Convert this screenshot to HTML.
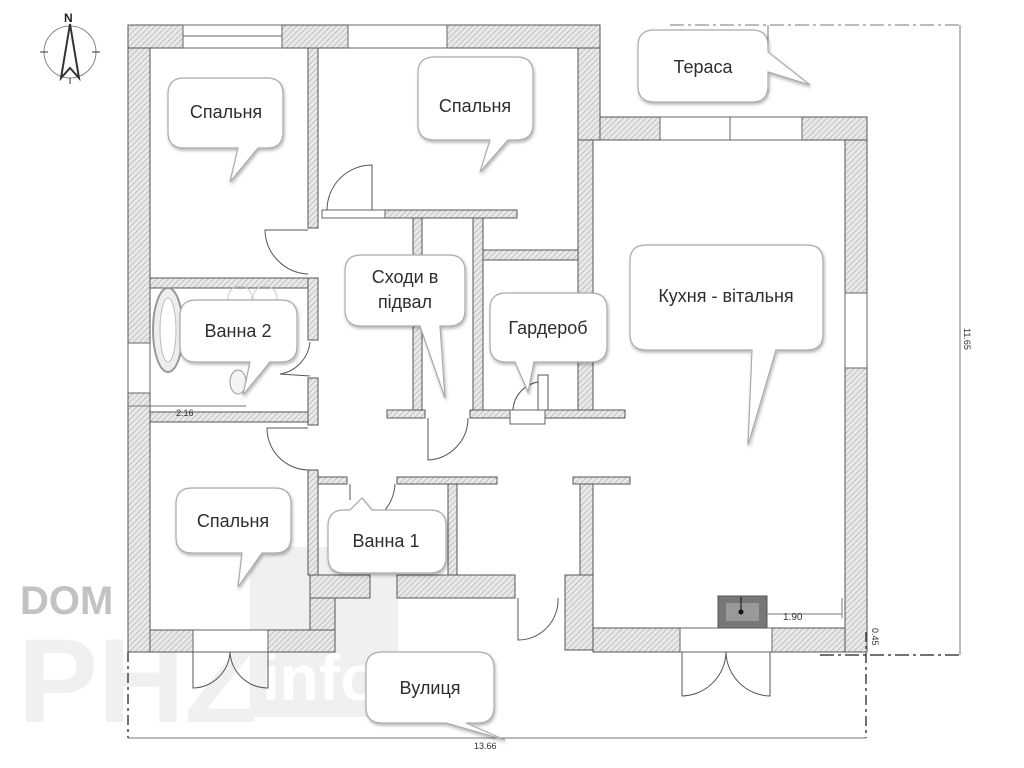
<!DOCTYPE html>
<html><head><meta charset="utf-8">
<style>
html,body{margin:0;padding:0;background:#fff;}
svg{display:block;}
text{font-family:"Liberation Sans",sans-serif;}
</style></head><body>
<svg width="1024" height="768" viewBox="0 0 1024 768" xmlns="http://www.w3.org/2000/svg">
<defs>
<pattern id="h" width="4" height="4" patternUnits="userSpaceOnUse" patternTransform="rotate(45)">
<rect width="4" height="4" fill="#e9e9e9"/>
<line x1="0" y1="0" x2="0" y2="4" stroke="#a8a8a8" stroke-width="1.2"/>
</pattern>
<filter id="sh" x="-10%" y="-10%" width="130%" height="140%">
<feDropShadow dx="1" dy="2" stdDeviation="1.5" flood-color="#000" flood-opacity="0.3"/>
</filter>
</defs>
<rect width="1024" height="768" fill="#fff"/>

<!-- watermark -->
<text x="20" y="614" font-size="40" font-weight="bold" fill="#c2c2c2">DOM</text>
<g fill="#f0f0f0">
<text x="18" y="722" font-size="120" font-weight="bold">PHZ</text>
<rect x="250" y="547" width="148" height="170"/>
</g>
<text x="262" y="700" font-size="64" font-weight="bold" fill="#fff">info</text>

<!-- walls -->
<g fill="url(#h)" stroke="#555" stroke-width="1">
<rect x="128" y="25" width="55" height="23"/>
<rect x="282" y="25" width="66" height="23"/>
<rect x="447" y="25" width="153" height="23"/>
<rect x="578" y="48" width="22" height="92"/>
<rect x="128" y="48" width="22" height="295"/>
<rect x="128" y="393" width="22" height="259"/>
<rect x="150" y="630" width="43" height="22"/>
<rect x="268" y="630" width="67" height="22"/>
<rect x="310" y="598" width="25" height="32"/>
<rect x="310" y="575" width="60" height="23"/>
<rect x="397" y="575" width="118" height="23"/>
<rect x="565" y="575" width="28" height="75"/>
<rect x="150" y="278" width="160" height="10"/>
<rect x="150" y="412" width="160" height="10"/>
<rect x="308" y="48" width="10" height="180"/>
<rect x="308" y="278" width="10" height="62"/>
<rect x="308" y="378" width="10" height="47"/>
<rect x="308" y="470" width="10" height="105"/>
<rect x="385" y="210" width="132" height="8"/>
<rect x="413" y="218" width="9" height="192"/>
<rect x="473" y="218" width="10" height="192"/>
<rect x="483" y="250" width="95" height="10"/>
<rect x="387" y="410" width="38" height="8"/>
<rect x="470" y="410" width="40" height="8"/>
<rect x="545" y="410" width="80" height="8"/>
<rect x="318" y="477" width="29" height="7"/>
<rect x="397" y="477" width="100" height="7"/>
<rect x="448" y="484" width="9" height="91"/>
<rect x="573" y="477" width="57" height="7"/>
<rect x="580" y="484" width="13" height="91"/>
<rect x="578" y="140" width="15" height="270"/>
<rect x="600" y="117" width="60" height="23"/>
<rect x="802" y="117" width="65" height="23"/>
<rect x="845" y="140" width="22" height="153"/>
<rect x="845" y="368" width="22" height="284"/>
<rect x="593" y="628" width="87" height="24"/>
<rect x="772" y="628" width="73" height="24"/>
</g>

<!-- windows -->
<g fill="#fff" stroke="#666" stroke-width="1">
<rect x="183" y="25" width="99" height="23"/><line x1="183" y1="36" x2="282" y2="36"/>
<rect x="348" y="25" width="99" height="23"/>
<rect x="660" y="117" width="70" height="23"/><rect x="730" y="117" width="72" height="23"/>
<rect x="845" y="293" width="22" height="75"/>
<rect x="128" y="343" width="22" height="50"/>
<rect x="680" y="628" width="92" height="24"/>
<rect x="193" y="630" width="75" height="22"/>
<rect x="322" y="210" width="63" height="8"/>
<rect x="510" y="410" width="35" height="14"/>
</g>

<!-- doors -->
<g fill="none" stroke="#555" stroke-width="1">
<path d="M372 210 V165 A45 45 0 0 0 327 210"/>
<path d="M308 230 H265 A45 45 0 0 0 308 274"/>
<path d="M308 428 H267 A42 42 0 0 0 308 470"/>
<path d="M428 418 V460 A42 42 0 0 0 468 418"/>
<path d="M538 410 V375 H548 V410 M513 410 A30 30 0 0 1 538 382"/>
<path d="M350 484 V500 M395 484 A45 45 0 0 1 385 510"/>
<path d="M518 598 V640 A40 40 0 0 0 558 598"/>
<path d="M193 652 V688 A38 38 0 0 0 230 652 A38 38 0 0 0 268 688 V652"/>
<path d="M682 652 V696 A45 45 0 0 0 726 652 A45 45 0 0 0 770 696 V652"/>
<path d="M310 342 A36 36 0 0 1 280 374 L310 376"/>
</g>

<ellipse cx="168" cy="330" rx="15" ry="42" fill="#eee" stroke="#999" stroke-width="2"/>
<ellipse cx="168" cy="330" rx="8" ry="32" fill="#fff" stroke="#bbb"/>
<circle cx="240" cy="298" r="12" fill="none" stroke="#ccc"/>
<circle cx="265" cy="298" r="12" fill="none" stroke="#ccc"/>
<ellipse cx="238" cy="382" rx="8" ry="12" fill="#f4f4f4" stroke="#999"/>
<rect x="718" y="596" width="49" height="32" fill="#777" stroke="#555"/>
<rect x="726" y="603" width="33" height="18" fill="#999"/>
<circle cx="741" cy="612" r="2.5" fill="#111"/><line x1="741" y1="597" x2="741" y2="612" stroke="#111"/>

<!-- dimensions -->
<g stroke="#777" stroke-width="1" fill="none">
<line x1="767" y1="614" x2="842" y2="614"/><line x1="842" y1="598" x2="842" y2="618"/>
<line x1="128" y1="406" x2="246" y2="406"/>
<line x1="128" y1="738" x2="866" y2="738"/>
<line x1="960" y1="25" x2="960" y2="655"/>
<line x1="768" y1="25" x2="768" y2="92"/>
<path d="M670 25 H960" stroke-dasharray="14 4 3 4"/>
<path d="M820 655 H960" stroke-dasharray="14 4 3 4" stroke="#444" stroke-width="1.5"/>
<path d="M866 632 V738" stroke-dasharray="10 4 3 4" stroke="#444" stroke-width="1.5"/>
<path d="M128 652 V738" stroke-dasharray="10 4 3 4" stroke="#444" stroke-width="1.5"/>
<path d="M672 90 H768" stroke-dasharray="14 4 3 4"/>
</g>
<g font-size="9" fill="#333">
<text x="783" y="620" font-size="10">1.90</text>
<text x="176" y="416">2.16</text>
<text x="474" y="749">13.66</text>
<text transform="translate(964,328) rotate(90)">11.65</text>
<text transform="translate(872,628) rotate(90)">0.45</text>
</g>

<!-- north -->
<g stroke="#333" fill="none">
<circle cx="70" cy="52" r="26" stroke="#888"/>
<line x1="40" y1="52" x2="48" y2="52"/><line x1="92" y1="52" x2="100" y2="52"/>
<path d="M70 24 L61 78 L70 68 L79 78 Z" stroke-width="2" fill="#fff"/>
<line x1="70" y1="78" x2="70" y2="84"/>
</g>
<text x="64" y="22" font-size="12" font-weight="bold" fill="#222">N</text>

<!-- callouts -->
<g fill="#fff" stroke="#aaa" stroke-width="1.2" filter="url(#sh)">
<path d="M184 78 H267 Q283 78 283 94 V132 Q283 148 267 148 H258 L230 182 L238 148 H184 Q168 148 168 132 V94 Q168 78 184 78 Z"/>
<path d="M434 57 H517 Q533 57 533 73 V124 Q533 140 517 140 H508 L480 172 L490 140 H434 Q418 140 418 124 V73 Q418 57 434 57 Z"/>
<path d="M654 30 H752 Q768 30 768 46 V52 L810 85 L768 72 V86 Q768 102 752 102 H654 Q638 102 638 86 V46 Q638 30 654 30 Z"/>
<path d="M361 255 H449 Q465 255 465 271 V310 Q465 326 449 326 H440 L445 398 L420 326 H361 Q345 326 345 310 V271 Q345 255 361 255 Z"/>
<path d="M196 300 H281 Q297 300 297 316 V346 Q297 362 281 362 H270 L243 395 L250 362 H196 Q180 362 180 346 V316 Q180 300 196 300 Z"/>
<path d="M506 293 H591 Q607 293 607 309 V346 Q607 362 591 362 H534 L528 392 L515 362 H506 Q490 362 490 346 V309 Q490 293 506 293 Z"/>
<path d="M646 245 H807 Q823 245 823 261 V334 Q823 350 807 350 H776 L748 445 L752 350 H646 Q630 350 630 334 V261 Q630 245 646 245 Z"/>
<path d="M192 488 H275 Q291 488 291 504 V537 Q291 553 275 553 H262 L238 587 L242 553 H192 Q176 553 176 537 V504 Q176 488 192 488 Z"/>
<path d="M344 510 H350 L362 498 L372 510 H430 Q446 510 446 526 V557 Q446 573 430 573 H344 Q328 573 328 557 V526 Q328 510 344 510 Z"/>
<path d="M382 652 H478 Q494 652 494 668 V707 Q494 723 478 723 H466 L505 740 L446 723 H382 Q366 723 366 707 V668 Q366 652 382 652 Z"/>
</g>
<g font-size="18" fill="#2e2e2e" text-anchor="middle">
<text x="226" y="118">Спальня</text>
<text x="475" y="112">Спальня</text>
<text x="703" y="73">Тераса</text>
<text x="405" y="283">Сходи в</text>
<text x="405" y="308">підвал</text>
<text x="238" y="337">Ванна 2</text>
<text x="548" y="334">Гардероб</text>
<text x="726" y="302">Кухня - вітальня</text>
<text x="233" y="527">Спальня</text>
<text x="386" y="547">Ванна 1</text>
<text x="430" y="694">Вулиця</text>
</g>
</svg>
</body></html>
